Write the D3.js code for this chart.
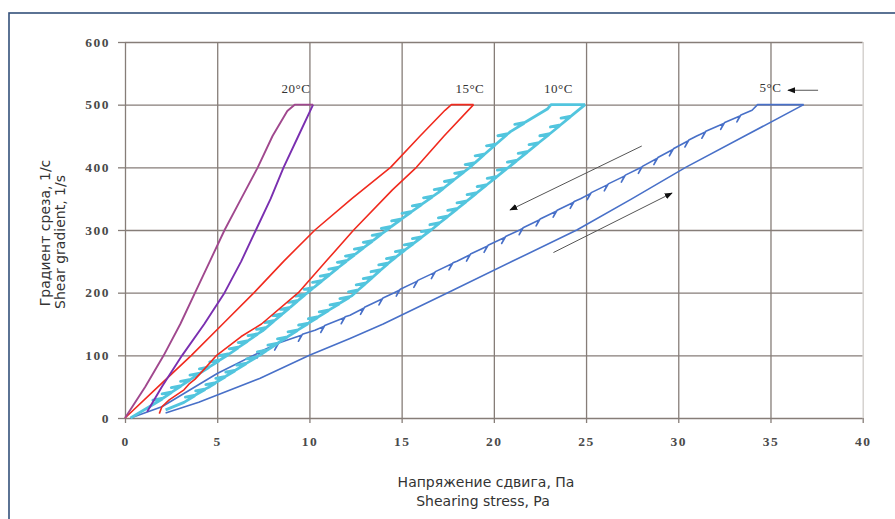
<!DOCTYPE html>
<html>
<head>
<meta charset="utf-8">
<script src="https://cdn.jsdelivr.net/npm/d3@7"></script>
<style>
  body { margin: 0; background: #fff; }
  svg { display: block; }
  .tick text { font-family: "Liberation Serif", serif; font-size: 13.5px; font-weight: bold; fill: #4a4a4a; letter-spacing: 1.5px; }
  .grid line { stroke: #867d78; stroke-width: 1.3; }
  .grid .domain { display: none; }
  .axt { font-family: "DejaVu Sans", sans-serif; font-size: 14px; fill: #333; }
  .temp { font-family: "Liberation Serif", serif; font-size: 13px; fill: #333; letter-spacing: 0.5px; }
</style>
</head>
<body>
<svg width="895" height="519"></svg>
<script>
// axis ticks
var xTicks = [0, 5, 10, 15, 20, 25, 30, 35, 40];
var yTicks = [0, 100, 200, 300, 400, 500, 600];

// series: [shear stress Pa, shear gradient 1/s], each listed with rising gradient
var t20Up   = [[1.2,10],[2.0,50],[3.1,100],[4.3,150],[5.4,200],[6.3,250],[7.1,300],[7.9,350],[8.6,400],[9.4,450],[10.2,500]];
var t20Down = [[0,0],[1.1,50],[2.1,100],[3.0,150],[3.8,200],[4.6,250],[5.4,300],[6.3,350],[7.2,400],[8.0,450],[8.8,490],[9.2,500]];

var t15Up   = [[1.86,7],[2.0,18],[2.4,29],[3.2,45],[3.5,55],[3.8,62],[4.3,78],[4.97,100],[6.3,130],[7.4,150],[9.4,200],[10.9,250],[12.4,300],[14.5,364],[15.8,400],[17.3,450],[18.9,500]];
var t15Down = [[0,0],[1.8,50],[3.6,100],[5.3,150],[7.0,200],[8.6,250],[10.3,300],[12.3,350],[14.4,400],[16.0,450],[17.35,491],[17.7,500]];

var t10Up   = [[2.2,13],[3.2,25],[4.6,50],[7.3,100],[9.9,150],[12.3,195],[14.4,250],[16.6,300],[18.7,350],[20.8,400],[22.9,450],[24.95,500]];
var t10Down = [[0.3,0],[2.0,30],[3.5,60],[5.7,103],[7.5,140],[9.9,200],[12.0,250],[14.2,300],[17.0,360],[18.7,400],[20.9,457],[22.9,493],[23.1,500]];

var t5Up    = [[2.2,8],[4.0,25],[7.3,63],[10.0,100],[12.2,127],[14.0,150],[17.5,200],[21.0,250],[24.5,300],[27.5,350],[30.4,400],[33.6,450],[36.8,500]];
var t5Down  = [[0.3,0],[2.0,18],[5.0,71],[8.0,115],[10.3,140],[12.2,164],[14.6,200],[18.0,250],[21.4,300],[24.7,350],[28.0,400],[31.0,450],[34.0,491],[34.3,500]];

// gradient levels where the traces show a tooth
var t10UpTeeth   = [35,45,55,65,75,86,96,107,118,128,139,150,160,171,182,192,203,214,224,235,246,256,267,278,288,299,310,321,333,345,358,371,384,397,410,424,438,452,466,480];
var t10DownTeeth = [30,40,50,60,70,80,91,101,112,122,133,143,154,165,175,186,196,207,218,228,239,250,260,271,282,293,304,316,328,340,353,366,379,392,406,420,436,452,470];
var t5DownTeeth  = [105,118,132,146,160,175,190,204,218,232,246,260,274,288,302,316,330,344,358,372,386,400,414,428,442,456,470,482];

var tempLabels = ["20°C", "15°C", "10°C", "5°C"];
var tempAt = [[9.27,518],[18.7,518],[23.5,518],[35.0,521]];

var svg = d3.select("svg");

// outer frame
svg.append("rect")
  .attr("x", 9).attr("y", 13).attr("width", 900).attr("height", 520)
  .attr("fill", "none").attr("stroke", "#34507a").attr("stroke-width", 1.6);

var x = d3.scaleLinear().domain([0, 40]).range([125, 862.7]);
var y = d3.scaleLinear().domain([0, 600]).range([418, 42]);

// grid
svg.append("g")
  .attr("class", "grid")
  .attr("transform", "translate(" + x(0) + ",0)")
  .call(d3.axisLeft(y).tickValues(yTicks).tickSize(-(x(40) - x(0))).tickFormat(""));

svg.append("g")
  .attr("class", "grid")
  .attr("transform", "translate(0," + y(0) + ")")
  .call(d3.axisTop(x).tickValues(xTicks).tickSize(y(0) - y(600)).tickFormat(""))
  .selectAll(".tick line")
    .style("stroke", function(d) { return d == 40 ? "#cfcbc8" : null; });

// tick marks and labels
svg.append("g")
  .attr("class", "grid")
  .attr("transform", "translate(" + x(0) + ",0)")
  .call(d3.axisLeft(y).tickValues(yTicks).tickSizeInner(7).tickSizeOuter(0).tickPadding(8));

svg.append("g")
  .attr("class", "grid")
  .attr("transform", "translate(0," + y(0) + ")")
  .call(d3.axisBottom(x).tickValues(xTicks).tickSizeInner(5).tickSizeOuter(0).tickPadding(13));

// axis titles
svg.append("text").attr("class", "axt")
  .attr("transform", "translate(50,233) rotate(-90)")
  .attr("text-anchor", "middle").text("Градиент среза, 1/с");
svg.append("text").attr("class", "axt")
  .attr("transform", "translate(65,242) rotate(-90)")
  .attr("text-anchor", "middle").text("Shear gradient, 1/s");
svg.append("text").attr("class", "axt")
  .attr("x", 486).attr("y", 487)
  .attr("text-anchor", "middle").text("Напряжение сдвига, Па");
svg.append("text").attr("class", "axt")
  .attr("x", 483).attr("y", 506)
  .attr("text-anchor", "middle").text("Shearing stress, Pa");

// build a pixel polyline, inserting teeth as short barbs
function pts(curve, teeth, dx, dy) {
  var at = d3.scaleLinear().domain(curve.map(d => d[1])).range(curve.map(d => d[0]));
  var levels = curve.map(d => ({ v: d[1], t: false }));
  (teeth || []).forEach(v => levels.push({ v: v, t: true }));
  levels.sort((a, b) => a.v - b.v);
  var out = [];
  levels.forEach(function(l) {
    var px = x(at(l.v)), py = y(l.v);
    out.push([px, py]);
    if (l.t) { out.push([px + dx, py + dy]); out.push([px + 1, py - 1]); }
  });
  return out;
}

var line = d3.line();

function drawLoop(up, down, upTeeth, downTeeth, upColor, downColor, width, dx, dy) {
  var u = pts(up, upTeeth, dx, dy);
  var d = pts(down, downTeeth, dx, dy).reverse();
  d.unshift(u[u.length - 1]);
  svg.append("path").attr("d", line(u))
    .attr("fill", "none").attr("stroke", upColor).attr("stroke-width", width)
    .attr("stroke-linejoin", "round");
  svg.append("path").attr("d", line(d))
    .attr("fill", "none").attr("stroke", downColor).attr("stroke-width", width)
    .attr("stroke-linejoin", "round");
}

drawLoop(t5Up, t5Down, [], t5DownTeeth, "#4870c8", "#4870c8", 1.6, -3, 6);
drawLoop(t10Up, t10Down, t10UpTeeth, t10DownTeeth, "#52c5de", "#52c5de", 2.8, -9, 1);
drawLoop(t15Up, t15Down, [], [], "#f02a1e", "#f02a1e", 1.6, 0, 0);
drawLoop(t20Up, t20Down, [], [], "#7a2fb0", "#a0488e", 1.9, 0, 0);

// temperature labels
svg.selectAll(".temp")
  .data(tempLabels)
  .enter().append("text")
    .attr("class", "temp")
    .attr("x", (d, i) => x(tempAt[i][0]))
    .attr("y", (d, i) => y(tempAt[i][1]))
    .attr("text-anchor", "middle")
    .text(d => d);

// arrows
svg.append("defs").append("marker")
  .attr("id", "ah").attr("viewBox", "0 0 10 10")
  .attr("refX", 9).attr("refY", 5)
  .attr("markerWidth", 8).attr("markerHeight", 8)
  .attr("markerUnits", "userSpaceOnUse")
  .attr("orient", "auto")
  .append("path").attr("d", "M0,1L10,5L0,9Z").attr("fill", "#111");

var arrows = [[[28.02,434],[20.88,332]], [[23.23,264],[29.66,359]], [[37.58,523],[35.95,523]]];
svg.selectAll(".arr")
  .data(arrows)
  .enter().append("line")
    .attr("class", "arr")
    .attr("x1", d => x(d[0][0])).attr("y1", d => y(d[0][1]))
    .attr("x2", d => x(d[1][0])).attr("y2", d => y(d[1][1]))
    .attr("stroke", "#555").attr("stroke-width", 1)
    .attr("marker-end", "url(#ah)");
</script>
</body>
</html>
